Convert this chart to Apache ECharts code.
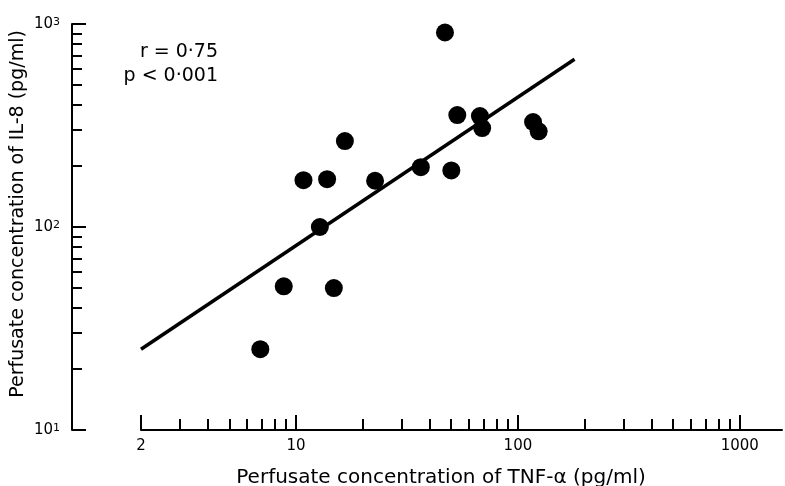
<!DOCTYPE html>
<html>
<head>
<meta charset="utf-8">
<script src="https://cdn.jsdelivr.net/npm/echarts@6/dist/echarts.min.js"></script>
<style>
  html, body { margin: 0; padding: 0; background: #fff; }
  #chart { width: 785px; height: 486px; }
</style>
</head>
<body>
<div id="chart"></div>
<script>
// TNF-alpha vs IL-8 (pg/ml), both log scale
var tnf = [46.9, 53.3, 67.4, 69.0, 117, 124, 16.6, 10.8, 13.8, 22.7, 36.5, 50.1, 12.8, 8.8, 14.8, 6.9];
var il8 = [908, 356, 352, 307, 329, 296, 265, 170, 172, 169, 197, 190, 100, 51, 50, 25];

// regression line end points
var fitX = [2, 180];
var fitY = [25, 670];

// axis ticks
var xMajor = [2, 10, 100, 1000];
var xMinor = [3, 4, 5, 6, 7, 8, 9, 20, 30, 40, 50, 60, 70, 80, 90, 200, 300, 400, 500, 600, 700, 800, 900];
var yMajor = [10, 100, 1000];
var yMinor = [20, 30, 40, 50, 60, 70, 80, 90, 200, 300, 400, 500, 600, 700, 800, 900];

var statText = ['r = 0\u00b775', 'p < 0\u00b7001'];

var FONT = 'DejaVu Sans, Verdana, sans-serif';

var chart = echarts.init(document.getElementById('chart'), null, { renderer: 'canvas' });

var points = tnf.map(function (x, i) { return [x, il8[i]]; });
var fit = fitX.map(function (x, i) { return [x, fitY[i]]; });

var xBase = { type: 'log', logBase: 10, min: 2, max: 1550, splitLine: { show: false } };
var yBase = { type: 'log', logBase: 10, min: 10, max: 1000, splitLine: { show: false } };

var option = {
    animation: false,
    backgroundColor: '#fff',
    grid: { left: 141, right: 3, top: 24, bottom: 56, containLabel: false, outerBoundsMode: 'none' },
    xAxis: [
        Object.assign({}, xBase, {
            position: 'bottom',
            name: 'Perfusate concentration of TNF-\u03b1 (pg/ml)',
            nameLocation: 'middle',
            nameGap: 38,
            nameTextStyle: { fontFamily: FONT, fontSize: 20, color: '#000', padding: [0, 41, 0, 0] },
            axisLine: { show: true, lineStyle: { color: '#000', width: 2 } },
            axisTick: { show: true, inside: true, length: 15, customValues: xMajor, lineStyle: { color: '#000', width: 2 } },
            axisLabel: {
                customValues: xMajor, margin: 9,
                fontFamily: FONT, fontSize: 15, color: '#000',
                formatter: function (v) { return String(Math.round(v)); }
            }
        }),
        Object.assign({}, xBase, {
            position: 'bottom',
            axisLine: { show: false },
            axisTick: { show: true, inside: true, length: 11, customValues: xMinor, lineStyle: { color: '#000', width: 2 } },
            axisLabel: { show: false }
        })
    ],
    yAxis: [
        Object.assign({}, yBase, {
            position: 'left',
            offset: 69,
            name: 'Perfusate concentration of IL-8 (pg/ml)',
            nameLocation: 'middle',
            nameRotate: 90,
            nameGap: 44,
            nameMoveOverlap: false,
            nameTextStyle: { fontFamily: FONT, fontSize: 19, color: '#000', padding: [0, 0, 0, 26] },
            axisLine: { show: true, lineStyle: { color: '#000', width: 2 } },
            axisTick: { show: true, inside: true, length: 14, customValues: yMajor, lineStyle: { color: '#000', width: 2 } },
            axisLabel: {
                customValues: yMajor, margin: 12,
                fontFamily: FONT, fontSize: 15, color: '#000',
                formatter: function (v) { return '10{sup|' + Math.round(Math.log10(v)) + '}'; },
                rich: {
                    sup: { fontFamily: FONT, fontSize: 11, color: '#000', verticalAlign: 'top', lineHeight: 15 }
                }
            }
        }),
        Object.assign({}, yBase, {
            position: 'left',
            offset: 69,
            axisLine: { show: false },
            axisTick: { show: true, inside: true, length: 10, customValues: yMinor, lineStyle: { color: '#000', width: 2 } },
            axisLabel: { show: false }
        })
    ],
    graphic: [
        {
            type: 'text', x: 218, y: 52,
            style: { text: statText[0], font: '19px ' + FONT, fill: '#000', align: 'right', verticalAlign: 'middle', textAlign: 'right', textVerticalAlign: 'middle' }
        },
        {
            type: 'text', x: 218, y: 76,
            style: { text: statText[1], font: '19px ' + FONT, fill: '#000', align: 'right', verticalAlign: 'middle', textAlign: 'right', textVerticalAlign: 'middle' }
        }
    ],
    series: [
        {
            type: 'line',
            data: fit,
            symbol: 'none',
            lineStyle: { color: '#000', width: 3.5 },
            z: 2
        },
        {
            type: 'scatter',
            data: points,
            symbol: 'circle',
            symbolSize: 18,
            itemStyle: { color: '#000', opacity: 1 },
            z: 3
        }
    ]
};

chart.setOption(option);
</script>
</body>
</html>
